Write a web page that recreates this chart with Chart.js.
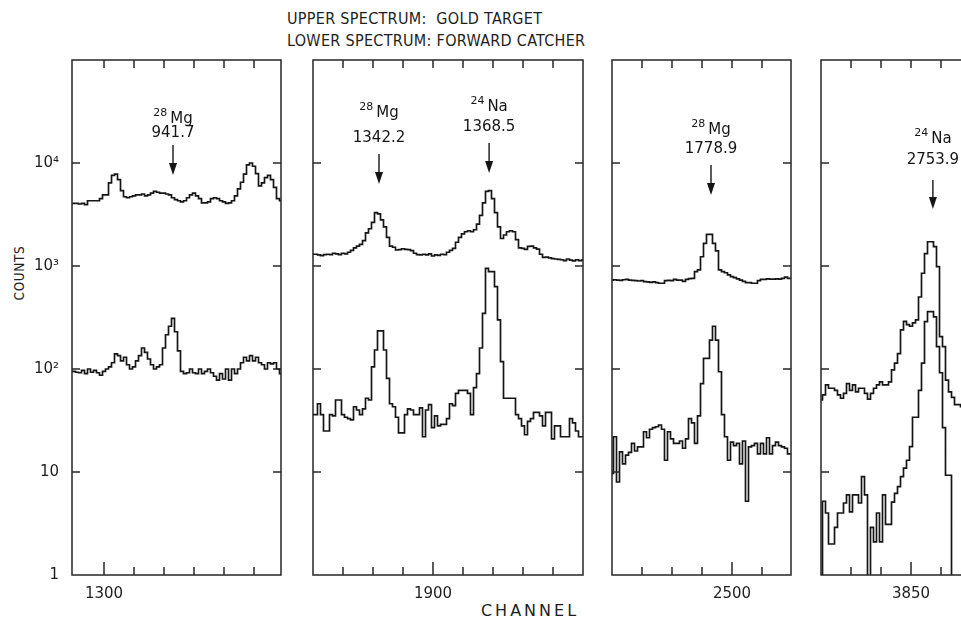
<!DOCTYPE html>
<html><head><meta charset="utf-8">
<script src="https://cdn.jsdelivr.net/npm/chart.js@4.4.1/dist/chart.umd.min.js"></script>
<style>
html,body{margin:0;padding:0;background:#fff;}
body{width:961px;height:620px;overflow:hidden;position:relative;}
canvas{position:absolute;top:0;}
.t{position:absolute;color:#1e1e1e;white-space:pre;}
</style></head><body>
<div class="t" id="title" style="left:287px;top:8px;font:16px/22px 'Liberation Sans Narrow','DejaVu Sans Condensed',sans-serif;letter-spacing:0.3px;">UPPER SPECTRUM:  GOLD TARGET
LOWER SPECTRUM: FORWARD CATCHER</div>
<div class="t" style="left:19px;top:273px;transform:translate(-50%,-50%) rotate(-90deg);font:13.5px 'Liberation Sans Narrow','DejaVu Sans Condensed',sans-serif;letter-spacing:0.6px;">COUNTS</div>
<div class="t" style="left:530px;top:610px;transform:translate(-50%,-50%);font:16px 'DejaVu Sans',sans-serif;letter-spacing:3px;">CHANNEL</div>
<canvas id="c1" width="300" height="620" style="left:0"></canvas>
<canvas id="c2" width="290" height="620" style="left:303px"></canvas>
<canvas id="c3" width="199" height="620" style="left:602px"></canvas>
<canvas id="c4" width="200" height="620" style="left:811px"></canvas>
<script>
// ---- axis ticks ----
const yTickValues = [1, 10, 100, 1000, 10000];
const yTickLabels = ['1', '10', '10²', '10³', '10⁴'];

// ---- panel 1 (channels from 1289) ----
const p1Start = 1289;
const p1Upper = [4050,4050,4050,4000,4050,3950,4300,4300,4300,4300,4500,4900,4900,6400,7600,7800,6900,5400,4700,4600,4700,4800,4900,4900,5000,4800,4900,5100,5300,5200,5100,5100,5000,4900,4600,4400,4300,4200,4300,4600,4900,5100,4800,4500,4100,4100,4200,4500,4600,4500,4300,4200,4050,4100,4300,4800,5600,6500,7800,9600,10000,9300,7900,6000,6400,7200,7600,6900,5800,4500,4300];
const p1Lower = [95,95,93,92,97,90,100,93,97,92,87,95,100,105,115,140,135,120,130,110,100,105,120,135,160,145,125,110,100,105,110,160,215,260,310,230,150,95,90,92,100,92,90,100,90,95,100,92,85,78,90,80,100,78,100,90,100,115,130,120,135,120,130,115,110,100,115,112,115,100,90];
const p1XTicks = [1300,1310,1320,1330,1340,1350];
const p1XLabel = 1300;

// ---- panel 2 (channels from 1860) ----
const p2Start = 1860;
const p2Upper = [1300,1300,1280,1260,1290,1300,1290,1330,1310,1290,1330,1310,1360,1420,1500,1560,1620,1760,2100,2300,2650,3300,3200,2800,2400,1900,1560,1520,1430,1440,1470,1450,1440,1410,1330,1290,1280,1300,1280,1310,1250,1280,1270,1300,1290,1360,1420,1480,1700,1900,2050,2150,2200,2150,2250,2550,3100,4100,5300,5400,4500,3300,2400,1850,2000,2150,2200,2150,1800,1500,1480,1450,1550,1560,1500,1460,1300,1210,1220,1200,1180,1170,1160,1150,1130,1170,1140,1120,1150,1130,1140,1140];
const p2Lower = [36,36,46,36,25,25,36,35,50,50,36,34,33,32,43,40,36,41,52,50,105,153,235,235,153,81,46,43,34,24,24,36,41,40,36,36,42,22,40,45,27,35,28,29,29,33,46,44,58,62,62,62,58,36,66,90,160,347,950,880,880,630,300,118,52,52,52,52,36,33,28,23,31,33,38,38,35,28,38,38,21,28,28,22,22,22,33,30,25,22,22,22];
const p2XTicks = [1870,1880,1890,1900,1910,1920,1930,1940];
const p2XLabel = 1900;

// ---- panel 3 (channels from 2459) ----
const p3Start = 2459;
const p3Upper = [730,730,735,730,725,735,740,730,725,720,715,720,705,700,695,700,690,680,680,720,725,720,740,730,730,710,740,755,760,880,915,1230,1660,2030,2030,1660,1400,915,880,860,820,790,770,750,730,710,690,690,680,680,720,740,740,750,745,745,750,745,760,780,760,760];
const p3Lower = [9.7,9.7,22,8,15.7,12,14.6,15.5,19,16,17.5,17.5,24.6,21.5,26,27,27.5,28.6,26,13,24.6,21,19,19,20,17,21,33,30,19,35,72,127,127,191,260,191,94,36,22,13,19.5,18,19,12,20,5.2,17.5,18,19,15,19,15,21.5,15,18,19.5,18,17.5,17,15,15];
const p3XTicks = [2470,2480,2490,2500,2510];
const p3XLabel = 2500;

// ---- panel 4 (channels from 3819) ----
const p4Start = 3819;
const p4Upper = [50,50,56,70,65,65,62,56,52,58,72,62,70,60,65,65,58,51,58,65,70,75,70,70,75,98,114,141,240,290,270,260,280,300,500,850,1320,1720,1720,1540,985,206,165,78,60,53,45,45,43];
const p4Lower = [0.8,0.8,5.2,4,2,2,2.9,4,4,5,6,4.1,6,6,5,9,6,0.8,2.9,2.1,4,2.1,6,3.1,3.1,5.1,6.2,7.2,9,10.9,13,17.6,34,34,62,114,288,360,360,320,165,92,27,9.3,9.3,0.8,0.8,0.8,0.8];
const p4XTicks = [3830,3840,3850,3860,3870];
const p4XLabel = 3850;

// ---- peak annotations ----
const markPanel   = [0, 1, 1, 2, 3];
const markChannel = [1323, 1882, 1918.7, 2493, 3857.3];
const markMass    = ['28', '28', '24', '28', '24'];
const markElement = ['Mg', 'Mg', 'Na', 'Mg', 'Na'];
const markEnergy  = ['941.7', '1342.2', '1368.5', '1778.9', '2753.9'];
// layout of annotation (pixel rows): element, energy, arrow top, arrow tip
const markRows = [[119,133,145,175],[113,138,154,184],[107,127,143,173],[130,149,165,195],[139,160,180,209]];

const INK = '#151515';
const FONT = "'DejaVu Sans', sans-serif";

const deco = {
  id: 'deco',
  afterDatasetsDraw(chart, args, opts) {
    const {ctx, chartArea: a, scales} = chart;
    const x = scales.x, y = scales.y;
    ctx.save();
    ctx.strokeStyle = '#262626';
    ctx.lineWidth = 1.5;
    ctx.strokeRect(a.left, a.top, a.right - a.left, a.bottom - a.top);
    const seg = (x1, y1, x2, y2) => { ctx.beginPath(); ctx.moveTo(x1, y1); ctx.lineTo(x2, y2); ctx.stroke(); };
    opts.xTicks.forEach(v => {
      const px = x.getPixelForValue(v);
      if (px < a.left + 1 || px > a.right - 1) return;
      seg(px, a.bottom, px, a.bottom - (v === opts.xLabel ? 13 : 8));
      seg(px, a.top, px, a.top + 8);
    });
    yTickValues.forEach(v => {
      const py = y.getPixelForValue(v);
      if (py <= a.top + 1 || py >= a.bottom - 1) return;
      seg(a.left, py, a.left + 8, py);
      seg(a.right, py, a.right - 8, py);
    });
    // annotations
    ctx.fillStyle = INK;
    ctx.strokeStyle = INK;
    markPanel.forEach((p, i) => {
      if (p !== opts.panel) return;
      const px = x.getPixelForValue(markChannel[i]);
      const [elY, eY, top, tip] = markRows[i];
      ctx.textBaseline = 'middle';
      ctx.font = '15px ' + FONT;
      ctx.textAlign = 'center';
      ctx.fillText(markEnergy[i], px, eY);
      ctx.font = '11px ' + FONT;
      const wm = ctx.measureText(markMass[i]).width;
      ctx.font = '15px ' + FONT;
      const we = ctx.measureText(markElement[i]).width;
      const gap = 3;
      const x0 = px - (wm + gap + we) / 2;
      ctx.textAlign = 'left';
      ctx.fillText(markElement[i], x0 + wm + gap, elY);
      ctx.font = '11px ' + FONT;
      ctx.fillText(markMass[i], x0, elY - 6);
      ctx.lineWidth = 1.4;
      seg(px, top, px, tip - 10);
      ctx.beginPath();
      ctx.moveTo(px - 4, tip - 12);
      ctx.lineTo(px + 4, tip - 12);
      ctx.lineTo(px, tip);
      ctx.closePath();
      ctx.fill();
    });
    ctx.restore();
  }
};

const toPoints = (start, vals) => vals.map((v, i) => ({x: start + i, y: v}));

function panel(id, idx, start, upper, lower, xmin, xmax, xTicks, xLabel, showY, padL, padR) {
  const ds = vals => ({data: toPoints(start, vals), stepped: 'middle', borderColor: INK, borderWidth: 1.7,
                       pointRadius: 0, fill: false, clip: 0});
  return new Chart(document.getElementById(id), {
    type: 'line',
    data: {datasets: [ds(upper), ds(lower)]},
    options: {
      responsive: false, animation: false, devicePixelRatio: 1,
      events: [],
      layout: {autoPadding: false, padding: {top: 60, left: padL, right: padR, bottom: 0}},
      plugins: {legend: {display: false}, tooltip: {enabled: false},
                deco: {panel: idx, xTicks: xTicks, xLabel: xLabel}},
      scales: {
        x: {type: 'linear', min: xmin, max: xmax, position: 'bottom',
            afterBuildTicks: s => { s.ticks = xTicks.map(v => ({value: v})); },
            afterFit: s => { s.height = 45; },
            grid: {display: false, drawTicks: false}, border: {display: false},
            ticks: {autoSkip: false, maxRotation: 0, padding: 10, color: '#1e1e1e',
                    font: {family: FONT, size: 15},
                    callback: v => (v === xLabel ? String(v) : '')}},
        y: {type: 'logarithmic', min: 1, max: 100000, display: showY, position: 'left',
            afterBuildTicks: s => { s.ticks = yTickValues.map(v => ({value: v})); },
            afterFit: s => { s.width = showY ? 72 : 0; },
            grid: {display: false, drawTicks: false}, border: {display: false},
            ticks: {padding: 13, color: '#1e1e1e', font: {family: FONT, size: 15},
                    callback: v => { const k = yTickValues.indexOf(v); return k >= 0 ? yTickLabels[k] : ''; }}}
      }
    },
    plugins: [deco]
  });
}

panel('c1', 0, p1Start, p1Upper, p1Lower, 1289.33, 1359, p1XTicks, p1XLabel, true, 0, 19);
panel('c2', 1, p2Start, p2Upper, p2Lower, 1860, 1950, p2XTicks, p2XLabel, false, 10, 10);
panel('c3', 2, p3Start, p3Upper, p3Lower, 2460, 2519.67, p3XTicks, p3XLabel, false, 10, 10);
panel('c4', 3, p4Start, p4Upper, p4Lower, 3820, 3880, p4XTicks, p4XLabel, false, 10, 10);
</script>
</body></html>
